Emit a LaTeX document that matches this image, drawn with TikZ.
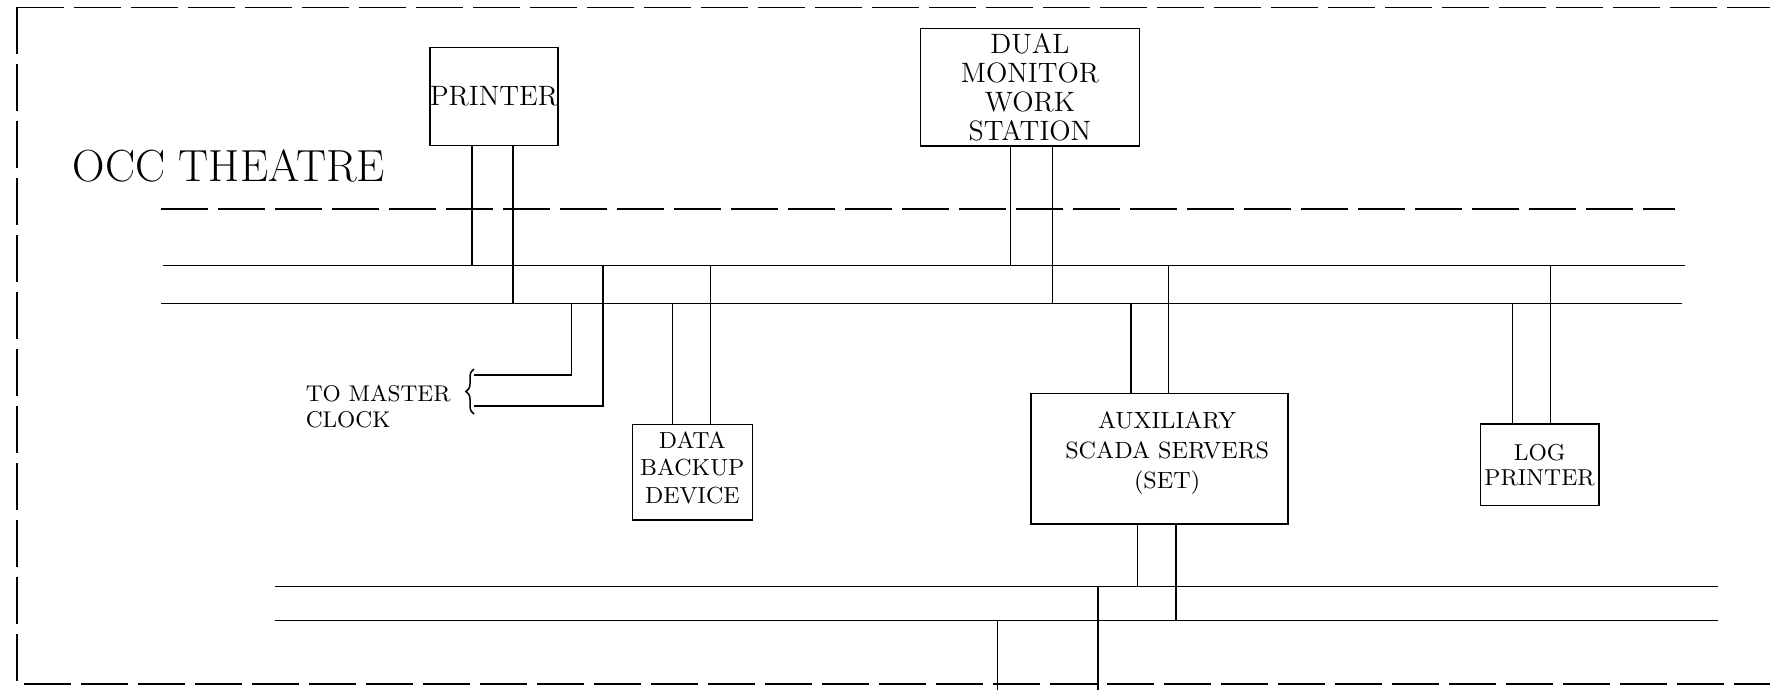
\documentclass[tikz,border=0pt]{standalone}
\usetikzlibrary{decorations.pathreplacing}
\begin{document}
\begin{tikzpicture}[x=0.4pt,y=-0.4pt,line width=0.6pt,
  box/.style={draw,inner sep=0pt,align=center},
  fbig/.style={font=\fontsize{11.2}{11.7}\selectfont},
  fsmall/.style={font=\fontsize{9.3}{11}\selectfont},
  bord/.style={dash pattern=on 18.8pt off 4pt}]
\useasboundingbox (0,0) rectangle (1770,689);
\clip (0,0) rectangle (1770,689);
% outer theatre border and inner separator
\draw[bord] (17,7.3) -- (1800,7.3);
\draw[bord] (17,7.3) -- (17,684) -- (1800,684);
\coordinate (sepw) at (161,209);
\coordinate (sepe) at (1675,209);
\draw[bord] (sepw) -- (sepe);
\node[anchor=base west,inner sep=0pt,font=\fontsize{18}{21}\selectfont] (occ) at (72,181) {OCC THEATRE};
% boxes
\node[box,fbig,minimum width=50.8pt,minimum height=39.2pt] (pr) at (494,96.7) {PRINTER};
\node[box,fbig,minimum width=87.7pt,minimum height=47.1pt] (dm) at (1030,87.2) {DUAL\\MONITOR\\WORK\\STATION};
\node[box,minimum width=48pt,minimum height=38.3pt,
  label={[fsmall,align=center,inner sep=0pt,yshift=1.8pt]center:DATA\\BACKUP\\DEVICE}] (db) at (692.3,472.2) {};
\node[box,minimum width=102.7pt,minimum height=52.2pt,
  label={[font=\fontsize{9.4}{12}\selectfont,align=center,inner sep=0pt,xshift=3pt,yshift=2.4pt]center:AUXILIARY\\SCADA SERVERS\\(SET)}] (aux) at (1159.6,458.5) {};
\node[box,font=\fontsize{9.2}{10}\selectfont,minimum width=47.3pt,minimum height=32.5pt] (lp) at (1539.6,464.8) {LOG\\PRINTER};
\node[anchor=north west,inner sep=0pt,align=left,font=\fontsize{9.1}{10.4}\selectfont] (mc) at (305,384) {TO MASTER\\CLOCK};
% buses
\coordinate (b1w) at (163,265.7);  \coordinate (b1e) at (1684.5,265.7);
\coordinate (b2w) at (161,303.3);  \coordinate (b2e) at (1682,303.3);
\coordinate (l1w) at (275,586.5);  \coordinate (l1e) at (1718,586.5);
\coordinate (l2w) at (275,620.7);  \coordinate (l2e) at (1718,620.7);
\draw (b1w) -- (b1e);
\draw (b2w) -- (b2e);
\draw (l1w) -- (l1e);
\draw (l2w) -- (l2e);
% printer drops
\coordinate (pa) at (472.2,145.7); \coordinate (pb) at (513.2,145.7);
\draw (pa) -- (pa |- b1w);
\draw (pb) -- (pb |- b2w);
% dual monitor drops
\coordinate (da) at (1010.6,146); \coordinate (dbb) at (1052.4,146);
\draw (da) -- (da |- b1w);
\draw (dbb) -- (dbb |- b2w);
% master clock
\coordinate (bra) at (474,414); \coordinate (brb) at (474,369);
\coordinate (mca) at (571.6,375); \coordinate (mcb) at (602.9,406);
\draw (mca |- b2w) -- (mca) -- (mca -| bra);
\draw (mcb |- b1w) -- (mcb) -- (mcb -| bra);
\draw[decorate,decoration={brace,amplitude=3.2pt}] (bra) -- (brb);
% data backup
\coordinate (ka) at (672.6,424.3); \coordinate (kb) at (710.5,424.3);
\draw (ka |- b2w) -- (ka);
\draw (kb |- b1w) -- (kb);
% auxiliary servers
\coordinate (xa) at (1130.8,393.3); \coordinate (xb) at (1168.3,393.3);
\draw (xa |- b2w) -- (xa);
\draw (xb |- b1w) -- (xb);
\coordinate (xc) at (1137.5,523.7); \coordinate (xd) at (1175.9,523.7);
\draw (xc) -- (xc |- l1w);
\draw (xd) -- (xd |- l2w);
% log printer
\coordinate (ga) at (1512.5,424.7); \coordinate (gb) at (1550.4,424.7);
\draw (ga |- b2w) -- (ga);
\draw (gb |- b1w) -- (gb);
% drops leaving the theatre
\coordinate (oa) at (1097.9,700); \coordinate (ob) at (997.6,700);
\draw (oa |- l1w) -- (oa);
\draw (ob |- l2w) -- (ob);
\end{tikzpicture}
\end{document}
